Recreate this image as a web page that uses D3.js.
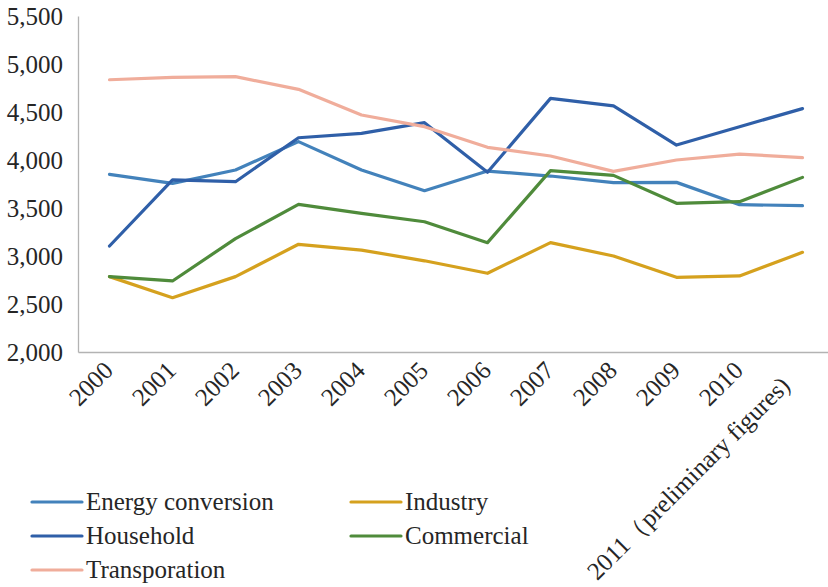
<!DOCTYPE html>
<html>
<head>
<meta charset="utf-8">
<script src="https://cdn.jsdelivr.net/npm/d3@7"></script>
<style>
  html, body { margin: 0; padding: 0; background: #fff; }
  svg { display: block; }
</style>
</head>
<body>
<svg id="chart" width="828" height="587"></svg>
<script>
const categories = ["2000","2001","2002","2003","2004","2005","2006","2007","2008","2009","2010","2011\uFF08preliminary figures)"];
const energyConversion = [3850, 3757, 3896, 4191, 3896, 3680, 3885, 3833, 3764, 3767, 3535, 3524];
const industry        = [2785, 2566, 2785, 3122, 3062, 2950, 2820, 3139, 3000, 2778, 2792, 3038];
const household       = [3104, 3792, 3774, 4232, 4278, 4389, 3872, 4642, 4563, 4156, 4347, 4535];
const commercial      = [2785, 2740, 3181, 3538, 3444, 3357, 3139, 3889, 3840, 3549, 3566, 3819];
const transportation  = [4836, 4861, 4868, 4736, 4469, 4347, 4132, 4042, 3882, 4000, 4062, 4024];
const seriesNames  = ["Energy conversion", "Industry", "Household", "Commercial", "Transporation"];
const seriesColors = ["#4382bb", "#d5a11e", "#2f5fa8", "#4f8b3b", "#f0ad9b"];
const yTicks = [2000, 2500, 3000, 3500, 4000, 4500, 5000, 5500];

const seriesData = [energyConversion, industry, household, commercial, transportation];

const FONT = "'Liberation Serif', 'Times New Roman', serif";
const svg = d3.select("#chart");
const mLeft = 78, mRight = 834, mTop = 16, mBottom = 352;

const x = d3.scaleBand().domain(categories).range([mLeft, mRight]).padding(0);
const y = d3.scaleLinear().domain([2000, 5500]).range([mBottom, mTop]);
const fmt = d3.format(",");

// Y axis
const yAxis = svg.append("g").attr("transform", `translate(${mLeft},0)`)
  .call(d3.axisLeft(y).tickValues(yTicks).tickSize(0).tickPadding(15).tickFormat(fmt));
yAxis.attr("font-family", null).attr("font-size", null);
yAxis.select(".domain").attr("stroke", "#b3b3b3").attr("stroke-width", 1.3);
yAxis.selectAll("text")
  .style("font-family", FONT).style("font-size", "25px").attr("fill", "#262626");

// X axis
const xAxis = svg.append("g").attr("transform", `translate(0,${mBottom})`)
  .call(d3.axisBottom(x).tickSize(0).tickFormat(d => d));
xAxis.attr("font-family", null).attr("font-size", null);
xAxis.select(".domain").attr("stroke", "#b3b3b3").attr("stroke-width", 1.3);
xAxis.selectAll("text")
  .style("font-family", FONT).style("font-size", "25px")
  .attr("fill", "#262626")
  .attr("text-anchor", "end")
  .attr("dy", null)
  .attr("y", 0)
  .attr("transform", (d, i) => i === categories.length - 1
      ? "translate(-11,35) rotate(-45)"
      : "translate(5,20) rotate(-45)");

// Lines
const line = d3.line()
  .x((d, i) => x(categories[i]) + x.bandwidth() / 2)
  .y(d => y(d));

svg.append("g").selectAll("path")
  .data(seriesData)
  .join("path")
  .attr("d", d => line(d))
  .attr("fill", "none")
  .attr("stroke", (d, i) => seriesColors[i])
  .attr("stroke-width", 3.2)
  .attr("stroke-linejoin", "round")
  .attr("stroke-linecap", "round");

// Legend
const legend = svg.append("g");
const legendCols = [32, 351];
const legendRows = [502, 536, 570];
seriesNames.forEach((name, i) => {
  const cx = legendCols[i % 2];
  const cy = legendRows[Math.floor(i / 2)];
  const g = legend.append("g").attr("transform", `translate(${cx},${cy})`);
  g.append("line").attr("x1", 0).attr("x2", 50).attr("y1", 0).attr("y2", 0)
    .attr("stroke", seriesColors[i]).attr("stroke-width", 3.2).attr("stroke-linecap", "round");
  g.append("text").attr("x", 54).attr("y", 0).attr("dy", "0.33em")
    .style("font-family", FONT).style("font-size", "25px").attr("fill", "#262626").text(name);
});
</script>
</body>
</html>
